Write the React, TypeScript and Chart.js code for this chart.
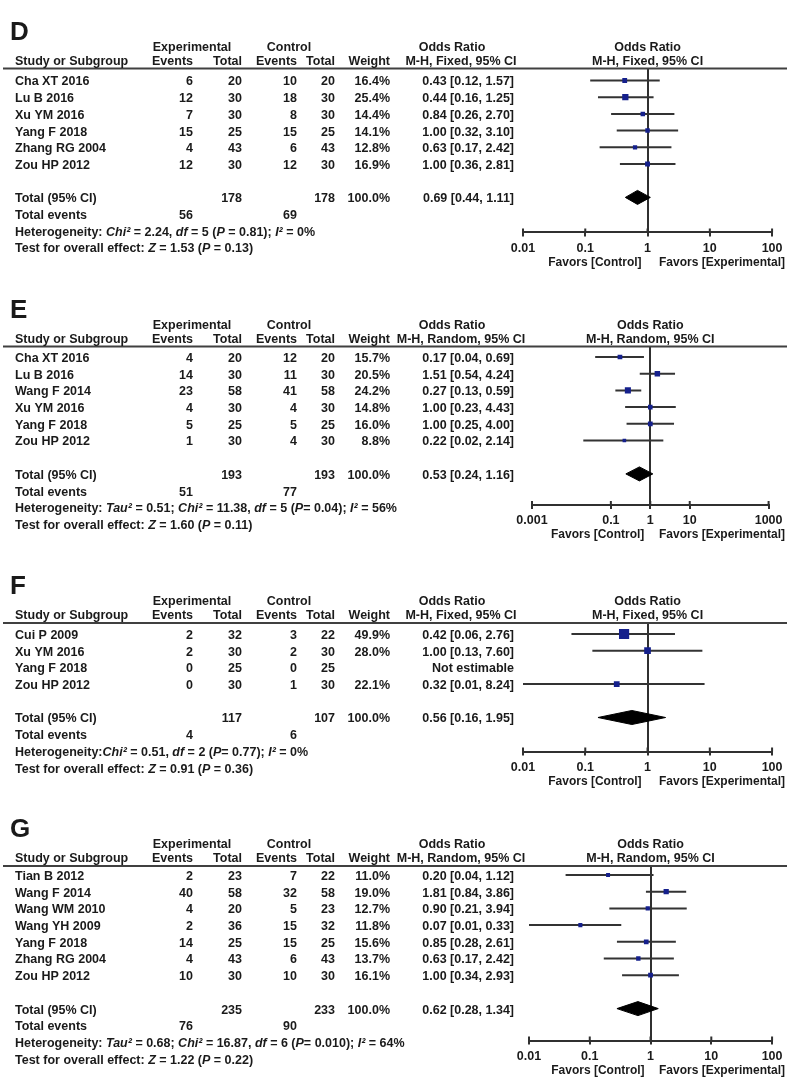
import React, { useEffect, useRef } from "react";
import { Chart, registerables } from "chart.js";

Chart.register(...registerables);

// ---------------- Panel D (M-H, Fixed) ----------------
const dStudies = ["Cha XT 2016", "Lu B 2016", "Xu YM 2016", "Yang F 2018", "Zhang RG 2004", "Zou HP 2012"];
const dExpEvents = [6, 12, 7, 15, 4, 12];
const dExpTotal = [20, 30, 30, 25, 43, 30];
const dCtrlEvents = [10, 18, 8, 15, 6, 12];
const dCtrlTotal = [20, 30, 30, 25, 43, 30];
const dWeight = [16.4, 25.4, 14.4, 14.1, 12.8, 16.9];
const dOR = [0.43, 0.44, 0.84, 1.0, 0.63, 1.0];
const dLow = [0.12, 0.16, 0.26, 0.32, 0.17, 0.36];
const dHigh = [1.57, 1.25, 2.7, 3.1, 2.42, 2.81];
const dPooled = [0.69, 0.44, 1.11];
const dTicks = [0.01, 0.1, 1, 10, 100];
const dHet: [string, boolean][] = [["Heterogeneity: ", false], ["Chi²", true], [" = 2.24, ", false], ["df", true], [" = 5 (", false], ["P", true], [" = 0.81); ", false], ["I²", true], [" = 0%", false]];
const dTest: [string, boolean][] = [["Test for overall effect: ", false], ["Z", true], [" = 1.53 (", false], ["P", true], [" = 0.13)", false]];

// ---------------- Panel E (M-H, Random) ----------------
const eStudies = ["Cha XT 2016", "Lu B 2016", "Wang F 2014", "Xu YM 2016", "Yang F 2018", "Zou HP 2012"];
const eExpEvents = [4, 14, 23, 4, 5, 1];
const eExpTotal = [20, 30, 58, 30, 25, 30];
const eCtrlEvents = [12, 11, 41, 4, 5, 4];
const eCtrlTotal = [20, 30, 58, 30, 25, 30];
const eWeight = [15.7, 20.5, 24.2, 14.8, 16.0, 8.8];
const eOR = [0.17, 1.51, 0.27, 1.0, 1.0, 0.22];
const eLow = [0.04, 0.54, 0.13, 0.23, 0.25, 0.02];
const eHigh = [0.69, 4.24, 0.59, 4.43, 4.0, 2.14];
const ePooled = [0.53, 0.24, 1.16];
const eTicks = [0.001, 0.1, 1, 10, 1000];
const eHet: [string, boolean][] = [["Heterogeneity: ", false], ["Tau²", true], [" = 0.51; ", false], ["Chi²", true], [" = 11.38, ", false], ["df", true], [" = 5 (", false], ["P", true], ["= 0.04); ", false], ["I²", true], [" = 56%", false]];
const eTest: [string, boolean][] = [["Test for overall effect: ", false], ["Z", true], [" = 1.60 (", false], ["P", true], [" = 0.11)", false]];

// ---------------- Panel F (M-H, Fixed) ----------------
const fStudies = ["Cui P 2009", "Xu YM 2016", "Yang F 2018", "Zou HP 2012"];
const fExpEvents = [2, 2, 0, 0];
const fExpTotal = [32, 30, 25, 30];
const fCtrlEvents = [3, 2, 0, 1];
const fCtrlTotal = [22, 30, 25, 30];
const fWeight = [49.9, 28.0, null, 22.1];
const fOR = [0.42, 1.0, null, 0.32];
const fLow = [0.06, 0.13, null, 0.01];
const fHigh = [2.76, 7.6, null, 8.24];
const fPooled = [0.56, 0.16, 1.95];
const fTicks = [0.01, 0.1, 1, 10, 100];
const fHet: [string, boolean][] = [["Heterogeneity:", false], ["Chi²", true], [" = 0.51, ", false], ["df", true], [" = 2 (", false], ["P", true], ["= 0.77); ", false], ["I²", true], [" = 0%", false]];
const fTest: [string, boolean][] = [["Test for overall effect: ", false], ["Z", true], [" = 0.91 (", false], ["P", true], [" = 0.36)", false]];

// ---------------- Panel G (M-H, Random) ----------------
const gStudies = ["Tian B 2012", "Wang F 2014", "Wang WM 2010", "Wang YH 2009", "Yang F 2018", "Zhang RG 2004", "Zou HP 2012"];
const gExpEvents = [2, 40, 4, 2, 14, 4, 10];
const gExpTotal = [23, 58, 20, 36, 25, 43, 30];
const gCtrlEvents = [7, 32, 5, 15, 15, 6, 10];
const gCtrlTotal = [22, 58, 23, 32, 25, 43, 30];
const gWeight = [11.0, 19.0, 12.7, 11.8, 15.6, 13.7, 16.1];
const gOR = [0.2, 1.81, 0.9, 0.07, 0.85, 0.63, 1.0];
const gLow = [0.04, 0.84, 0.21, 0.01, 0.28, 0.17, 0.34];
const gHigh = [1.12, 3.86, 3.94, 0.33, 2.61, 2.42, 2.93];
const gPooled = [0.62, 0.28, 1.34];
const gTicks = [0.01, 0.1, 1, 10, 100];
const gHet: [string, boolean][] = [["Heterogeneity: ", false], ["Tau²", true], [" = 0.68; ", false], ["Chi²", true], [" = 16.87, ", false], ["df", true], [" = 6 (", false], ["P", true], ["= 0.010); ", false], ["I²", true], [" = 64%", false]];
const gTest: [string, boolean][] = [["Test for overall effect: ", false], ["Z", true], [" = 1.22 (", false], ["P", true], [" = 0.22)", false]];

// ---------------- styling / layout ----------------
const W = 787;
const FONT = '"Liberation Sans", Arial, Helvetica, sans-serif';
const FS = 12.5;
const TEXT = "#1a1a1a";
const LINE = "#404040";
const AXIS = "#303030";
const BLUE = "#15208c";
const ROW_H = 16.7;
const TEXT_DY = 1.5;
const TICK_LEN = 4;
const TICK_PAD = 4.5;
const COL = { name: 15, expEv: 193, expTot: 242, ctrlEv: 297, ctrlTot: 335, weight: 390, or: 514, expHdr: 192, ctrlHdr: 289, orHdr: 452, orSub: 461 };

type Seg = [string, boolean];
interface PanelData {
  letter: string; method: string; studies: string[];
  expEvents: number[]; expTotal: number[]; ctrlEvents: number[]; ctrlTotal: number[];
  weight: (number | null)[]; or: (number | null)[]; low: (number | null)[]; high: (number | null)[];
  pooled: number[]; ticks: number[]; het: Seg[]; test: Seg[];
}
interface PanelLayout { lineY: number; row0: number; left: number; right: number; axisGap: number; }

const panels: { data: PanelData; layout: PanelLayout }[] = [
  { data: { letter: "D", method: "Fixed", studies: dStudies, expEvents: dExpEvents, expTotal: dExpTotal, ctrlEvents: dCtrlEvents, ctrlTotal: dCtrlTotal, weight: dWeight, or: dOR, low: dLow, high: dHigh, pooled: dPooled, ticks: dTicks, het: dHet, test: dTest },
    layout: { lineY: 68.5, row0: 80.5, left: 523, right: 773, axisGap: 35 } },
  { data: { letter: "E", method: "Random", studies: eStudies, expEvents: eExpEvents, expTotal: eExpTotal, ctrlEvents: eCtrlEvents, ctrlTotal: eCtrlTotal, weight: eWeight, or: eOR, low: eLow, high: eHigh, pooled: ePooled, ticks: eTicks, het: eHet, test: eTest },
    layout: { lineY: 346.5, row0: 357, left: 532, right: 772, axisGap: 31 } },
  { data: { letter: "F", method: "Fixed", studies: fStudies, expEvents: fExpEvents, expTotal: fExpTotal, ctrlEvents: fCtrlEvents, ctrlTotal: fCtrlTotal, weight: fWeight, or: fOR, low: fLow, high: fHigh, pooled: fPooled, ticks: fTicks, het: fHet, test: fTest },
    layout: { lineY: 623, row0: 634, left: 523, right: 773, axisGap: 34 } },
  { data: { letter: "G", method: "Random", studies: gStudies, expEvents: gExpEvents, expTotal: gExpTotal, ctrlEvents: gCtrlEvents, ctrlTotal: gCtrlTotal, weight: gWeight, or: gOR, low: gLow, high: gHigh, pooled: gPooled, ticks: gTicks, het: gHet, test: gTest },
    layout: { lineY: 866, row0: 875, left: 529, right: 773, axisGap: 32 } },
];

const sum = (a: number[]) => a.reduce((s, v) => s + v, 0);
const fmtOR = (e: number | null, l: number | null, h: number | null) =>
  e == null || l == null || h == null ? "Not estimable" : `${e.toFixed(2)} [${l.toFixed(2)}, ${h.toFixed(2)}]`;
const boxRadius = (w: number) => (2.2 + 0.16 * w) / Math.SQRT2;

function ForestPanel({ data, layout }: { data: PanelData; layout: PanelLayout }) {
  const ref = useRef<HTMLCanvasElement | null>(null);
  const n = data.studies.length;
  const totalIdx = n + 1;
  const axisY = layout.row0 + totalIdx * ROW_H + layout.axisGap;
  const top = Math.round(layout.lineY) - 62;
  const height = Math.round(axisY + 42 - top);

  useEffect(() => {
    const canvas = ref.current;
    if (!canvas) return;
    const yMin = -(layout.row0 - layout.lineY) / ROW_H;
    const yMax = totalIdx + layout.axisGap / ROW_H;

    const datasets: any[] = [];
    data.studies.forEach((_, i) => {
      const lo = data.low[i], hi = data.high[i];
      if (lo == null || hi == null) return;
      datasets.push({
        type: "line", data: [{ x: lo, y: i }, { x: hi, y: i }],
        borderColor: "#333333", borderWidth: 2, pointRadius: 0, fill: false, order: 2,
      });
    });
    const pts: { x: number; y: number }[] = [];
    const radii: number[] = [];
    data.studies.forEach((_, i) => {
      const e = data.or[i], w = data.weight[i];
      if (e == null || w == null) return;
      pts.push({ x: e, y: i });
      radii.push(boxRadius(w));
    });
    datasets.push({
      type: "scatter", data: pts, pointStyle: "rect", pointRadius: radii,
      backgroundColor: BLUE, borderColor: BLUE, borderWidth: 0, order: 0,
    });
    const [pe, pl, ph] = data.pooled;
    const dh = 0.42;
    datasets.push({
      type: "line", data: [{ x: pl, y: totalIdx }, { x: pe, y: totalIdx - dh }, { x: ph, y: totalIdx }],
      borderColor: "#000", borderWidth: 1, pointRadius: 0, fill: false, order: 0,
    });
    datasets.push({
      type: "line", data: [{ x: pl, y: totalIdx }, { x: pe, y: totalIdx + dh }, { x: ph, y: totalIdx }],
      borderColor: "#000", borderWidth: 1, pointRadius: 0, fill: "-1", backgroundColor: "#000", order: 0,
    });

    const tablePlugin = {
      id: "forestTable" + data.letter,
      afterDraw(chart: any) {
        const { ctx, chartArea: ca, scales } = chart;
        const ys = scales.y, xs = scales.x;
        const rowY = (i: number) => ys.getPixelForValue(i) + TEXT_DY;
        const bold = `bold ${FS}px ${FONT}`;
        const t = (s: string, px: number, py: number, align: CanvasTextAlign) => {
          ctx.textAlign = align;
          ctx.fillText(s, px, py);
        };
        const segs = (list: Seg[], px: number, py: number) => {
          let cx = px;
          ctx.textAlign = "left";
          for (const [s, it] of list) {
            ctx.font = `${it ? "italic " : ""}bold ${FS}px ${FONT}`;
            ctx.fillText(s, cx, py);
            cx += ctx.measureText(s).width;
          }
        };
        ctx.save();
        // upper halves of the axis tick marks (ticks cross the axis line)
        ctx.strokeStyle = AXIS;
        ctx.lineWidth = 2;
        ctx.beginPath();
        for (const v of data.ticks) {
          const px = xs.getPixelForValue(v);
          ctx.moveTo(px, ca.bottom);
          ctx.lineTo(px, ca.bottom - TICK_LEN);
        }
        ctx.stroke();

        ctx.fillStyle = TEXT;
        ctx.textBaseline = "middle";
        // panel letter
        ctx.font = `900 26px ${FONT}`;
        t(data.letter, 10, ca.top - 36, "left");
        // header separator
        ctx.strokeStyle = LINE;
        ctx.lineWidth = 2;
        ctx.beginPath();
        ctx.moveTo(3, ca.top);
        ctx.lineTo(W, ca.top);
        ctx.stroke();
        // headers
        ctx.font = bold;
        const h1 = ca.top - 21, h2 = ca.top - 7;
        const mid = (ca.left + ca.right) / 2;
        t("Experimental", COL.expHdr, h1, "center");
        t("Control", COL.ctrlHdr, h1, "center");
        t("Odds Ratio", COL.orHdr, h1, "center");
        t("Odds Ratio", mid, h1, "center");
        t("Study or Subgroup", COL.name, h2, "left");
        t("Events", COL.expEv, h2, "right");
        t("Total", COL.expTot, h2, "right");
        t("Events", COL.ctrlEv, h2, "right");
        t("Total", COL.ctrlTot, h2, "right");
        t("Weight", COL.weight, h2, "right");
        t(`M-H, ${data.method}, 95% CI`, COL.orSub, h2, "center");
        t(`M-H, ${data.method}, 95% CI`, mid, h2, "center");
        // study rows
        data.studies.forEach((s, i) => {
          const y = rowY(i);
          t(s, COL.name, y, "left");
          t(String(data.expEvents[i]), COL.expEv, y, "right");
          t(String(data.expTotal[i]), COL.expTot, y, "right");
          t(String(data.ctrlEvents[i]), COL.ctrlEv, y, "right");
          t(String(data.ctrlTotal[i]), COL.ctrlTot, y, "right");
          const w = data.weight[i];
          if (w != null) t(`${w.toFixed(1)}%`, COL.weight, y, "right");
          t(fmtOR(data.or[i], data.low[i], data.high[i]), COL.or, y, "right");
        });
        // totals
        const ty = rowY(totalIdx);
        t("Total (95% CI)", COL.name, ty, "left");
        t(String(sum(data.expTotal)), COL.expTot, ty, "right");
        t(String(sum(data.ctrlTotal)), COL.ctrlTot, ty, "right");
        t("100.0%", COL.weight, ty, "right");
        t(fmtOR(pe, pl, ph), COL.or, ty, "right");
        const ey = rowY(totalIdx + 1);
        t("Total events", COL.name, ey, "left");
        t(String(sum(data.expEvents)), COL.expEv, ey, "right");
        t(String(sum(data.ctrlEvents)), COL.ctrlEv, ey, "right");
        segs(data.het, COL.name, rowY(totalIdx + 2));
        segs(data.test, COL.name, rowY(totalIdx + 3));
        // favours labels
        ctx.font = `bold 12px ${FONT}`;
        const x1 = xs.getPixelForValue(1);
        const fy = ca.bottom + 30;
        t("Favors [Control]", x1 - 6, fy, "right");
        const expLabel = "Favors [Experimental]";
        const expW = ctx.measureText(expLabel).width;
        t(expLabel, Math.min(x1 + 12, W - 2 - expW), fy, "left");
        ctx.restore();
      },
    };

    const axisH = TICK_LEN + FS * 1.2 + 2 * TICK_PAD;
    const padTop = layout.lineY - top;
    const padBottom = height - (axisY - top) - axisH;

    const chart = new Chart(canvas, {
      type: "scatter",
      data: { datasets },
      options: {
        animation: false,
        responsive: false,
        maintainAspectRatio: false,
        events: [],
        layout: { padding: { left: layout.left, right: W - layout.right, top: padTop, bottom: padBottom } },
        plugins: { legend: { display: false }, tooltip: { enabled: false }, title: { display: false } },
        scales: {
          x: {
            type: "logarithmic",
            position: "bottom",
            min: data.ticks[0],
            max: data.ticks[data.ticks.length - 1],
            afterBuildTicks: (scale: any) => {
              scale.ticks = data.ticks.map((v) => ({ value: v }));
            },
            ticks: {
              autoSkip: false,
              maxRotation: 0,
              padding: TICK_PAD,
              color: TEXT,
              font: { family: FONT, size: FS, weight: "bold" },
              callback: (v: any) => String(v),
            },
            grid: {
              color: (c: any) => (c.tick && c.tick.value === 1 ? AXIS : "rgba(0,0,0,0)"),
              lineWidth: 2,
              drawTicks: true,
              tickLength: TICK_LEN,
              tickColor: AXIS,
              tickWidth: 2,
            },
            border: { display: true, color: AXIS, width: 2 },
          },
          y: {
            type: "linear",
            display: false,
            reverse: true,
            min: yMin,
            max: yMax,
          },
        },
      } as any,
      plugins: [tablePlugin],
    });

    // fine alignment of the plot area to the intended axis position
    const ca = chart.chartArea;
    const dy = axisY - top - ca.bottom;
    if (Math.abs(dy) > 0.2) {
      (chart.options as any).layout.padding.bottom = padBottom - dy;
      chart.update();
    }
    return () => chart.destroy();
  }, []);

  return (
    <canvas
      ref={ref}
      width={W}
      height={height}
      style={{ position: "absolute", left: 0, top, width: W, height, display: "block" }}
    />
  );
}

export default function App() {
  return (
    <div style={{ position: "absolute", left: 0, top: 0, width: W, height: 1079, background: "#fff", overflow: "hidden" }}>
      {panels.map((p) => (
        <ForestPanel key={p.data.letter} data={p.data} layout={p.layout} />
      ))}
    </div>
  );
}
